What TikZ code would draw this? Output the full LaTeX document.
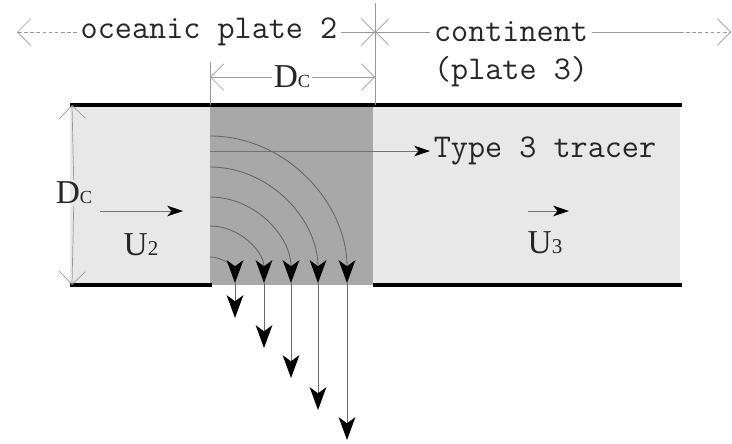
\documentclass[tikz,border=0pt]{standalone}
\usepackage{fontspec}
\setmainfont{Liberation Serif}
\usetikzlibrary{arrows.meta}

\definecolor{lightzone}{gray}{0.91}
\definecolor{darkzone}{gray}{0.66}
\definecolor{guidegray}{gray}{0.6}

\tikzset{
  bar/.style={line width=2.3pt},
  guide/.style={draw=guidegray, line width=0.4pt},
  open/.style={-{Straight Barb[length=7.5pt,width=15pt]}},
  flow/.style={draw=black!55, line width=0.45pt, -{Stealth[length=9pt,width=6pt,inset=2.5pt,color=black]}},
  sink/.style={draw=black!60, line width=0.5pt, -{Stealth[length=13pt,width=9.5pt,inset=3.5pt,color=black]}},
  tt/.style={font=\ttfamily\fontsize{18.9}{20}\selectfont, text=black!85, inner sep=2pt},
  sym/.style={font=\fontsize{19}{20}\selectfont, text=black!85, inner sep=1pt}
}
\newcommand{\dcsym}{D{\fontsize{10.5}{11}\selectfont C}}

\begin{document}
\begin{tikzpicture}[x=0.02cm,y=-0.02cm]
  \useasboundingbox (0,0) rectangle (732,443);
  % plates
  \fill[lightzone] (70,105) rectangle (680,285);
  \fill[darkzone] (210,105) rectangle (373,285);
  \draw[bar] (70,105) -- (682,105);
  \draw[bar] (70,285) -- (212,285);
  \draw[bar] (373,285) -- (682,285);

  % labels on top
  \node[tt] (ocean) at (209,32) {oceanic plate 2};
  \node[tt] (cont) at (511,32) {continent};
  \node[tt] (plate) at (511,72) {(plate 3)};
  \coordinate (lend) at (17,32); \coordinate (cross) at (375,32);
  \coordinate (rdash) at (680,32); \coordinate (rend) at (731,32);
  \coordinate (ctop) at (375,3); \coordinate (cbot) at (375,105);
  \draw[guide, dashed, dash pattern=on 2pt off 1.5pt, open] (ocean) -- (lend);
  \draw[guide, open] (ocean) -- (cross);
  \draw[guide, open] (cont) -- (cross);
  \draw[guide] (cont) -- (rdash);
  \draw[guide, dashed, dash pattern=on 2pt off 1.5pt, open] (rdash) -- (rend);
  \draw[guide] (ctop) -- (cbot);

  % width of the sinking zone
  \node[sym, fill=white] (dctop) at (292,77) {\dcsym};
  \coordinate (dl) at (210,77); \coordinate (dr) at (375,77);
  \coordinate (el) at (210,62); \coordinate (elb) at (210,105);
  \draw[guide, open] (dctop) -- (dl); \draw[guide, open] (dctop) -- (dr);
  \draw[guide] (el) -- (elb);

  % thickness
  \node[sym] (dcside) at (74,193) {\dcsym};
  \coordinate (vt) at (72,105); \coordinate (vb) at (72,285);
  \draw[guide, open] (dcside) -- (vt); \draw[guide, open] (dcside) -- (vb);

  % plate velocities
  \coordinate (u2a) at (100,211); \coordinate (u2b) at (183,211);
  \draw[flow] (u2a) -- (u2b);
  \node[sym] (u2) at (141,245) {U{\fontsize{12}{12}\selectfont 2}};
  \coordinate (u3a) at (528,211); \coordinate (u3b) at (569,211);
  \draw[flow] (u3a) -- (u3b);
  \node[sym] (u3) at (545,243) {U{\fontsize{12}{12}\selectfont 3}};

  % tracer
  \node[tt] (tracer) at (545,151) {Type 3 tracer};
  \coordinate (tstart) at (210,151);
  \draw[flow] (tstart) -- (tracer);

  % sinking paths
  \foreach \i/\ys/\xe/\tip in {1/257/235/318, 2/226/264/348, 3/197/291/378, 4/167/318/410, 5/136/347/440} {
    \coordinate (s\i) at (210,\ys);
    \coordinate (e\i) at (\xe,283);
    \coordinate (t\i) at (\xe,\tip);
    \draw[sink] (s\i) .. controls ({210+0.55*(\xe-210)},\ys) and (\xe,{283-0.55*(283-\ys)}) .. (e\i);
    \draw[sink] (e\i) -- (t\i);
  }
\end{tikzpicture}
\end{document}
